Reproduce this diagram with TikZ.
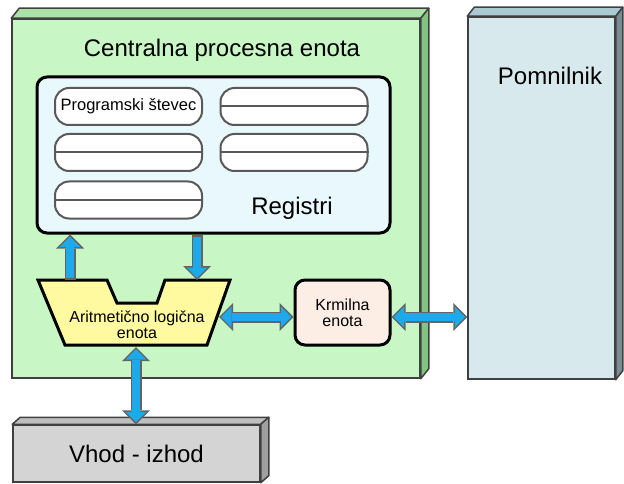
\documentclass[tikz,border=0pt]{standalone}
\usepackage{fontspec}
\setmainfont{Liberation Sans}
\usetikzlibrary{arrows.meta, positioning}

\definecolor{cpugreen}{RGB}{200,246,196}
\definecolor{cputop}{RGB}{172,226,168}
\definecolor{cpuside}{RGB}{128,196,128}
\definecolor{memblue}{RGB}{216,233,238}
\definecolor{memtop}{RGB}{172,202,212}
\definecolor{memside}{RGB}{120,140,148}
\definecolor{iogray}{RGB}{212,212,212}
\definecolor{iotop}{RGB}{190,190,190}
\definecolor{ioside}{RGB}{160,160,160}
\definecolor{regcyan}{RGB}{232,248,252}
\definecolor{aluyellow}{RGB}{255,250,160}
\definecolor{ctrlpeach}{RGB}{252,238,228}
\definecolor{busblue}{RGB}{28,170,234}
\definecolor{busrimgray}{RGB}{100,100,100}
\definecolor{edgegray}{RGB}{64,64,64}

\begin{document}
\begin{tikzpicture}[
  x=1pt, y=-1pt,
  bigtext/.style={font=\fontsize{24}{27}\selectfont},
  smalltext/.style={font=\fontsize{16}{16}\selectfont, align=center},
  unitbox/.style={draw=edgegray, line width=1.5pt, inner sep=0pt},
  face/.style={draw=edgegray, line width=1.5pt, line join=round},
  panel/.style={draw=black, line width=3pt, rounded corners=10pt, inner sep=0pt},
  slot/.style={draw=gray!70!black, line width=2pt, fill=white, rounded corners=14pt,
    minimum width=147pt, minimum height=37pt, inner sep=0pt, font=\fontsize{16.5}{18}\selectfont},
  slotline/.style={draw=gray!70!black, line width=2pt},
  alubody/.style={draw=black, line width=3pt, fill=aluyellow, line join=miter},
  busrim/.style={draw=busrimgray, line width=11pt,
    >={Triangle[length=14pt, width=28pt, line width=0pt]}},
  buscore/.style={draw=busblue, line width=8pt,
    >={Triangle[length=10.4pt, width=20.8pt, line width=0pt]},
    shorten >=2.1pt, shorten <=2.1pt},
]
\useasboundingbox (0,0) rectangle (624,484);

% Central unit
\node[unitbox, fill=cpugreen, minimum width=408pt, minimum height=359pt] (cpu) at (216,198.5) {};
\draw[face, fill=cputop] (cpu.north west) -- ++(8,-10) -- ([shift={(8,-10)}]cpu.north east) -- (cpu.north east) -- cycle;
\draw[face, fill=cpuside] (cpu.north east) -- ++(8,-10) -- ([shift={(8,-10)}]cpu.south east) -- (cpu.south east) -- cycle;
\node[bigtext, anchor=base] (cputitle) at (222,57) {Centralna procesna enota};

% Memory
\node[unitbox, fill=memblue, minimum width=147pt, minimum height=362pt] (mem) at (541.5,198) {};
\draw[face, fill=memtop] (mem.north west) -- ++(7,-9) -- ([shift={(7,-9)}]mem.north east) -- (mem.north east) -- cycle;
\draw[face, fill=memside] (mem.north east) -- ++(7,-9) -- ([shift={(7,-9)}]mem.south east) -- (mem.south east) -- cycle;
\node[bigtext, anchor=base] (memlabel) at (550,85) {Pomnilnik};

% Input - output
\node[unitbox, fill=iogray, minimum width=247pt, minimum height=57pt, bigtext] (io) at (136.5,453.5) {Vhod - izhod};
\draw[face, fill=iotop] (io.north west) -- ++(8,-7) -- ([shift={(8,-7)}]io.north east) -- (io.north east) -- cycle;
\draw[face, fill=ioside] (io.north east) -- ++(8,-7) -- ([shift={(8,-7)}]io.south east) -- (io.south east) -- cycle;

% Registers
\node[panel, fill=regcyan, minimum width=353pt, minimum height=156pt] (reg) at (213.5,155) {};
\node[bigtext, anchor=base] (reglabel) at (292,214) {Registri};
\node[slot] (pc) at (128.5,106.5) {Programski števec};
\node[slot] (r1) at (294,106.5) {};
\node[slot] (r2) at (128.5,152.5) {};
\node[slot] (r3) at (294,152.5) {};
\node[slot] (r4) at (128.5,200) {};
\foreach \r in {r1,r2,r3,r4}
  \draw[slotline] (\r.west) -- (\r.east);

% ALU and control unit
\draw[alubody] (38,280) -- (107,280) -- (117,303) -- (157,303) -- (165,280) -- (230,280) -- (207,345) -- (65,345) -- cycle;
\node[smalltext] (alulabel) at (137,324.5) {Aritmetično logična\\enota};
\coordinate (alu-up) at (70,280);
\coordinate (alu-down) at (197,280);
\coordinate (alu-right) at (219,317);
\coordinate (alu-bottom) at (136,347);

\node[panel, fill=ctrlpeach, minimum width=95pt, minimum height=65pt, smalltext] (ctrl) at (342.5,312.5) {Krmilna\\enota};

% Buses
\draw[busrim,->] (alu-up) -- (alu-up |- reg.south);
\draw[buscore,->] (alu-up) -- (alu-up |- reg.south);
\draw[busrim,->] (reg.south -| alu-down) -- (alu-down);
\draw[buscore,->] (reg.south -| alu-down) -- (alu-down);
\draw[busrim,<->] (alu-right) -- (alu-right -| ctrl.west);
\draw[buscore,<->] (alu-right) -- (alu-right -| ctrl.west);
\draw[busrim,<->] (ctrl.east |- alu-right) -- (mem.west |- alu-right);
\draw[buscore,<->] (ctrl.east |- alu-right) -- (mem.west |- alu-right);
\draw[busrim,<->] (alu-bottom) -- (alu-bottom |- io.north);
\draw[buscore,<->] (alu-bottom) -- (alu-bottom |- io.north);

\end{tikzpicture}
\end{document}
